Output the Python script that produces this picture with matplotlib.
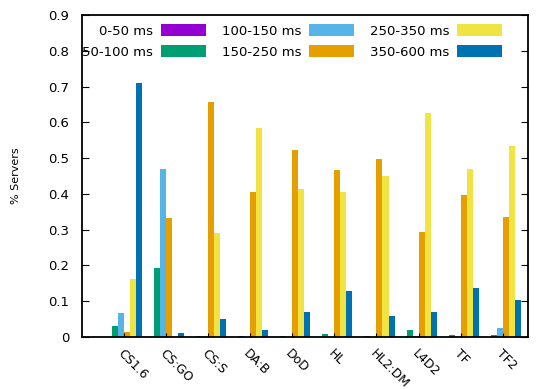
#!/usr/bin/env python3
import matplotlib
matplotlib.use("Agg")
import matplotlib.pyplot as plt
import numpy as np
from matplotlib.ticker import MultipleLocator

games = ["CS1.6", "CS:GO", "CS:S", "DA:B", "DoD", "HL", "HL2:DM", "L4D2", "TF", "TF2"]
ranges = ["0-50 ms", "50-100 ms", "100-150 ms", "150-250 ms", "250-350 ms", "350-600 ms"]
colors = ["#9400D3", "#009E73", "#56B4E9", "#E69F00", "#F0E442", "#0072B2"]

ms_0_50 = [0.0, 0.0, 0.0, 0.0, 0.0, 0.0, 0.0, 0.0, 0.0, 0.0]
ms_50_100 = [0.031, 0.193, 0.003, 0.002, 0.003, 0.009, 0.002, 0.018, 0.004, 0.005]
ms_100_150 = [0.067, 0.469, 0.002, 0.0, 0.0, 0.0, 0.0, 0.003, 0.0, 0.025]
ms_150_250 = [0.014, 0.332, 0.656, 0.405, 0.524, 0.466, 0.498, 0.294, 0.397, 0.335]
ms_250_350 = [0.162, 0.0, 0.29, 0.583, 0.415, 0.404, 0.45, 0.627, 0.471, 0.534]
ms_350_600 = [0.709, 0.01, 0.05, 0.02, 0.07, 0.128, 0.058, 0.07, 0.137, 0.103]

series = [ms_0_50, ms_50_100, ms_100_150, ms_150_250, ms_250_350, ms_350_600]

fig = plt.figure(figsize=(5.46, 3.89), dpi=100)
ax = fig.add_axes([0.150, 0.134, 0.817, 0.827])

x = np.arange(len(games))
nb = len(series)
w = 1.0 / (nb + 1)
for i, (vals, lab, c) in enumerate(zip(series, ranges, colors)):
    ax.bar(x + (i - (nb - 1) / 2) * w, vals, width=w, color=c, label=lab, linewidth=0)

ax.set_xlim(-1.0, 9.6)
ax.set_ylim(0, 0.9)
ax.yaxis.set_major_locator(MultipleLocator(0.1))
ax.yaxis.set_major_formatter(plt.FuncFormatter(lambda v, p: "0" if abs(v) < 1e-9 else f"{v:.1f}"))
ax.set_xticks(x)
ax.set_xticklabels(games, rotation=-45, ha="left", va="top", rotation_mode="anchor")
ax.tick_params(axis="y", direction="in", right=True, length=5, labelsize=9.5, pad=9)
ax.tick_params(axis="x", direction="in", length=3, labelsize=9, pad=7)
for s in ax.spines.values():
    s.set_linewidth(1.3)
ax.set_ylabel("% Servers", fontsize=8, labelpad=20)

leg = ax.legend(ncol=3, loc="upper left", bbox_to_anchor=(-0.02, 1.0), frameon=False,
                markerfirst=False, fontsize=9.5, handlelength=3.4, handleheight=1.0,
                columnspacing=1.2, handletextpad=0.6, labelspacing=0.55, borderaxespad=0.3)

plt.savefig("out.png", dpi=100)
